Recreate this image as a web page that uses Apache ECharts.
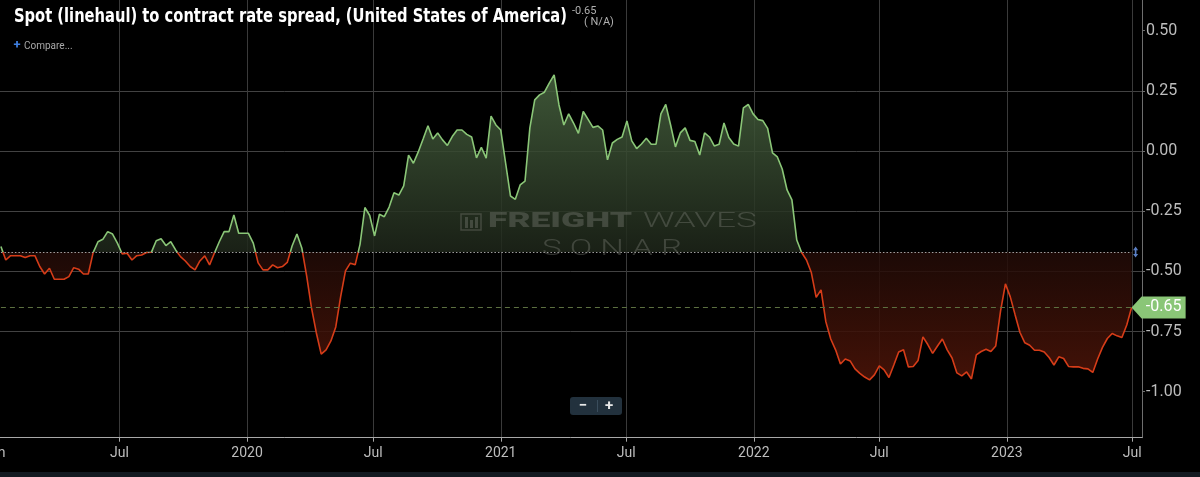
<!DOCTYPE html>
<html>
<head>
<meta charset="utf-8">
<script src="https://cdn.jsdelivr.net/npm/echarts@6/dist/echarts.min.js"></script>
<style>
html,body{margin:0;padding:0;background:#000;}
#chart{width:1200px;height:477px;}
</style>
</head>
<body>
<div id="chart"></div>
<script>
// ---- data (weekly) ----
const dates = [
'2019-01-11','2019-01-18','2019-01-25','2019-02-01','2019-02-08','2019-02-15','2019-02-22','2019-03-01','2019-03-08','2019-03-15','2019-03-22','2019-03-29','2019-04-05','2019-04-12','2019-04-19','2019-04-26','2019-05-03','2019-05-10','2019-05-17','2019-05-24','2019-05-31','2019-06-07','2019-06-14','2019-06-21','2019-06-28','2019-07-05','2019-07-12','2019-07-19','2019-07-26','2019-08-02','2019-08-09','2019-08-16','2019-08-23','2019-08-30','2019-09-06','2019-09-13','2019-09-20','2019-09-27','2019-10-04','2019-10-11','2019-10-18','2019-10-25','2019-11-01','2019-11-08','2019-11-15','2019-11-22','2019-11-29','2019-12-06','2019-12-13','2019-12-20','2019-12-27',
'2020-01-03','2020-01-10','2020-01-17','2020-01-24','2020-01-31','2020-02-07','2020-02-14','2020-02-21','2020-02-28','2020-03-06','2020-03-13','2020-03-20','2020-03-27','2020-04-03','2020-04-10','2020-04-17','2020-04-24','2020-05-01','2020-05-08','2020-05-15','2020-05-22','2020-05-29','2020-06-05','2020-06-12','2020-06-19','2020-06-26','2020-07-03','2020-07-10','2020-07-17','2020-07-24','2020-07-31','2020-08-07','2020-08-14','2020-08-21','2020-08-28','2020-09-04','2020-09-11','2020-09-18','2020-09-25','2020-10-02','2020-10-09','2020-10-16','2020-10-23','2020-10-30','2020-11-06','2020-11-13','2020-11-20','2020-11-27','2020-12-04','2020-12-11','2020-12-18','2020-12-25',
'2021-01-01','2021-01-08','2021-01-15','2021-01-22','2021-01-29','2021-02-05','2021-02-12','2021-02-19','2021-02-26','2021-03-05','2021-03-12','2021-03-19','2021-03-26','2021-04-02','2021-04-09','2021-04-16','2021-04-23','2021-04-30','2021-05-07','2021-05-14','2021-05-21','2021-05-28','2021-06-04','2021-06-11','2021-06-18','2021-06-25','2021-07-02','2021-07-09','2021-07-16','2021-07-23','2021-07-30','2021-08-06','2021-08-13','2021-08-20','2021-08-27','2021-09-03','2021-09-10','2021-09-17','2021-09-24','2021-10-01','2021-10-08','2021-10-15','2021-10-22','2021-10-29','2021-11-05','2021-11-12','2021-11-19','2021-11-26','2021-12-03','2021-12-10','2021-12-17','2021-12-24','2021-12-31',
'2022-01-07','2022-01-14','2022-01-21','2022-01-28','2022-02-04','2022-02-11','2022-02-18','2022-02-25','2022-03-04','2022-03-11','2022-03-18','2022-03-25','2022-04-01','2022-04-08','2022-04-15','2022-04-22','2022-04-29','2022-05-06','2022-05-13','2022-05-20','2022-05-27','2022-06-03','2022-06-10','2022-06-17','2022-06-24','2022-07-01','2022-07-08','2022-07-15','2022-07-22','2022-07-29','2022-08-05','2022-08-12','2022-08-19','2022-08-26','2022-09-02','2022-09-09','2022-09-16','2022-09-23','2022-09-30','2022-10-07','2022-10-14','2022-10-21','2022-10-28','2022-11-04','2022-11-11','2022-11-18','2022-11-25','2022-12-02','2022-12-09','2022-12-16','2022-12-23','2022-12-30',
'2023-01-06','2023-01-13','2023-01-20','2023-01-27','2023-02-03','2023-02-10','2023-02-17','2023-02-24','2023-03-03','2023-03-10','2023-03-17','2023-03-24','2023-03-31','2023-04-07','2023-04-14','2023-04-21','2023-04-28','2023-05-05','2023-05-12','2023-05-19','2023-05-26','2023-06-02','2023-06-09','2023-06-16','2023-06-23','2023-06-30'
];
const spread = [
-0.397,-0.453,-0.435,-0.435,-0.435,-0.443,-0.435,-0.435,-0.480,-0.511,
-0.487,-0.533,-0.533,-0.533,-0.522,-0.485,-0.491,-0.511,-0.511,-0.422,
-0.377,-0.367,-0.335,-0.345,-0.383,-0.428,-0.425,-0.453,-0.435,-0.432,
-0.422,-0.421,-0.373,-0.365,-0.393,-0.377,-0.411,-0.439,-0.457,-0.480,
-0.494,-0.457,-0.436,-0.473,-0.424,-0.377,-0.335,-0.335,-0.266,-0.342,
-0.342,-0.342,-0.383,-0.465,-0.494,-0.494,-0.473,-0.485,-0.480,-0.463,
-0.395,-0.345,-0.403,-0.519,-0.652,-0.756,-0.844,-0.826,-0.789,-0.731,
-0.606,-0.498,-0.466,-0.473,-0.388,-0.235,-0.268,-0.353,-0.263,-0.273,
-0.233,-0.174,-0.183,-0.145,-0.017,-0.051,-0.004,0.050,0.105,0.050,
0.075,0.046,0.023,0.060,0.087,0.087,0.069,0.058,-0.029,0.015,
-0.030,0.145,0.108,0.087,-0.050,-0.187,-0.201,-0.141,-0.125,0.096,
0.212,0.233,0.244,0.282,0.316,0.191,0.108,0.154,0.116,0.073,
0.164,0.131,0.098,0.104,0.087,-0.037,0.033,0.048,0.058,0.125,
0.042,0.010,0.029,0.053,0.028,0.028,0.154,0.193,0.108,0.017,
0.075,0.096,0.044,0.039,-0.017,0.075,0.058,0.021,0.028,0.116,
0.056,0.029,0.020,0.179,0.193,0.154,0.131,0.126,0.094,-0.008,
-0.025,-0.075,-0.162,-0.203,-0.370,-0.422,-0.453,-0.505,-0.608,-0.577,
-0.710,-0.781,-0.826,-0.885,-0.864,-0.872,-0.905,-0.924,-0.939,-0.951,
-0.930,-0.893,-0.909,-0.941,-0.889,-0.835,-0.826,-0.897,-0.895,-0.870,
-0.772,-0.804,-0.841,-0.810,-0.781,-0.826,-0.860,-0.922,-0.934,-0.918,
-0.947,-0.847,-0.833,-0.824,-0.833,-0.810,-0.664,-0.552,-0.606,-0.681,
-0.754,-0.797,-0.807,-0.828,-0.828,-0.835,-0.858,-0.889,-0.855,-0.862,
-0.895,-0.897,-0.896,-0.903,-0.905,-0.920,-0.864,-0.816,-0.779,-0.758,
-0.768,-0.775,-0.723,-0.650
];
const baseline = -0.42;
const yTickValues = [-1.00, -0.75, -0.50, -0.25, 0.00, 0.25, 0.50];
const monthNames = ['Jan','Feb','Mar','Apr','May','Jun','Jul','Aug','Sep','Oct','Nov','Dec'];
const titleText = 'Spot (linehaul) to contract rate spread, (United States of America)';
const latestText = '-0.65';
const changeText = '( N/A)';
const compareText = 'Compare...';

// ---- layout helpers ----
const measureCtx = document.createElement('canvas').getContext('2d');
function fitScale(text, font, targetWidth) {
  measureCtx.font = font;
  const w = measureCtx.measureText(text).width;
  return w > 0 ? targetWidth / w : 1;
}

const lastIdx = spread.length - 1;
const lastVal = spread[lastIdx];
const maxV = Math.max.apply(null, spread);
const minV = Math.min.apply(null, spread);
const split = (maxV - baseline) / (maxV - minV);

const GREEN = '#8ac677';
const RED = '#d63c18';
const WM = 'rgba(125,128,122,0.38)';

const titleFont = 'bold 20px "Liberation Sans Narrow", "DejaVu Sans Condensed", Roboto, sans-serif';
const titleScale = fitScale(titleText, titleFont, 553);
const wmBoldFont = '900 20px Roboto, "DejaVu Sans", sans-serif';
const wmThinFont = '300 20px Roboto, "DejaVu Sans", sans-serif';
const wmSonarFont = '300 22px Roboto, "DejaVu Sans", sans-serif';
const sFreight = fitScale('FREIGHT', wmBoldFont, 144);
const sWaves = fitScale('WAVES', wmThinFont, 114);
const sSonar = fitScale('S O N A R', wmSonarFont, 140);

const chart = echarts.init(document.getElementById('chart'), null, {renderer: 'canvas'});

const option = {
  backgroundColor: '#000000',
  animation: false,
  grid: {left: -6, right: 58, top: 0, bottom: 39.3, containLabel: false, outerBoundsMode: 'none'},
  xAxis: {
    type: 'time',
    min: '2019-01-01',
    max: '2023-07-15',
    splitNumber: 9,
    axisLine: {show: true, onZero: false, lineStyle: {color: '#a8a8a8', width: 1}},
    axisTick: {show: true, length: 4, lineStyle: {color: '#a8a8a8'}},
    axisLabel: {
      color: '#bdbdbd', fontSize: 14, fontFamily: 'Roboto, sans-serif', margin: 9,
      showMaxLabel: false, hideOverlap: false,
      formatter: function (val) {
        const d = new Date(val);
        if (d.getDate() !== 1) return '';
        const m = d.getMonth();
        if (m === 0) return d.getFullYear() === 2019 ? monthNames[0] : String(d.getFullYear());
        return monthNames[m];
      }
    },
    splitLine: {show: true, showMinLine: false, showMaxLine: false, lineStyle: {color: '#3a3a3a', width: 1}}
  },
  yAxis: {
    type: 'value',
    position: 'right',
    min: -1.191,
    max: 0.627,
    axisLine: {show: true, lineStyle: {color: '#6e6e6e', width: 1}},
    axisTick: {show: true, length: 3, customValues: yTickValues, lineStyle: {color: '#6e6e6e'}},
    axisLabel: {
      customValues: yTickValues,
      color: '#bdbdbd', fontSize: 16, fontFamily: 'Roboto, sans-serif', margin: 4,
      formatter: function (v) { return v.toFixed(2); }
    },
    splitLine: {show: true, showMinLine: false, showMaxLine: false, lineStyle: {color: '#424242', width: 1}}
  },
  visualMap: {
    show: false,
    type: 'piecewise',
    seriesIndex: 0,
    dimension: 1,
    pieces: [
      {gt: -2, lte: baseline, color: RED},
      {gt: baseline, lte: 2, color: GREEN}
    ]
  },
  series: [{
    type: 'line',
    data: dates.map(function (d, i) { return [d, spread[i]]; }),
    symbol: 'none',
    showSymbol: false,
    z: 3,
    lineStyle: {width: 1.6},
    areaStyle: {
      origin: baseline,
      opacity: 1,
      color: new echarts.graphic.LinearGradient(0, 0, 0, 1, [
        {offset: 0, color: 'rgba(72,100,64,0.85)'},
        {offset: split, color: 'rgba(30,38,26,0.85)'},
        {offset: split, color: 'rgba(33,11,7,0.85)'},
        {offset: 1, color: 'rgba(76,20,8,0.88)'}
      ])
    },
    markLine: {
      silent: true,
      symbol: ['none', 'none'],
      label: {show: false},
      data: [
        [{coord: [dates[0], baseline], lineStyle: {type: [1.5, 2], color: '#a0a0a0', width: 1.2}},
         {coord: [dates[lastIdx], baseline]}],
        [{coord: [dates[0], lastVal], lineStyle: {type: [5, 4], color: '#5c7040', width: 1}},
         {coord: [dates[lastIdx], lastVal]}]
      ]
    },
    markPoint: {
      silent: true,
      data: [
        {
          coord: [dates[lastIdx], lastVal],
          value: lastVal,
          symbol: 'path://M0,11L10,0L54,0L54,22L10,22Z',
          symbolSize: [54, 22],
          symbolOffset: [27, 0],
          itemStyle: {color: GREEN},
          label: {show: true, position: 'inside', offset: [5, 0], color: '#ffffff', fontSize: 16, fontFamily: 'Roboto, sans-serif',
                  formatter: function (p) { return Number(p.value).toFixed(2); }}
        },
        {
          coord: [dates[lastIdx], baseline],
          symbol: 'path://M3,0L6,4L4,4L4,8L6,8L3,12L0,8L2,8L2,4L0,4Z',
          symbolSize: [5, 11],
          symbolOffset: [4, 0],
          itemStyle: {color: '#5b7fc4'},
          label: {show: false}
        }
      ]
    }
  }],
  graphic: [
    // watermark
    {type: 'text', z: 10, x: 488, y: 222, scaleX: sFreight, style: {text: 'FREIGHT', font: wmBoldFont, fill: WM, textAlign: 'left', textVerticalAlign: 'middle'}},
    {type: 'text', z: 10, x: 643, y: 222, scaleX: sWaves, style: {text: 'WAVES', font: wmThinFont, fill: WM, textAlign: 'left', textVerticalAlign: 'middle'}},
    {type: 'text', z: 10, x: 542, y: 249, scaleX: sSonar, style: {text: 'S O N A R', font: wmSonarFont, fill: WM, textAlign: 'left', textVerticalAlign: 'middle'}},
    {type: 'rect', z: 10, shape: {x: 461, y: 214, width: 20, height: 16}, style: {fill: 'none', stroke: WM, lineWidth: 1.5}},
    {type: 'rect', z: 10, shape: {x: 465, y: 217, width: 3, height: 11}, style: {fill: WM}},
    {type: 'rect', z: 10, shape: {x: 470, y: 220, width: 3, height: 8}, style: {fill: WM}},
    {type: 'rect', z: 10, shape: {x: 475, y: 217, width: 3, height: 11}, style: {fill: WM}},
    // title
    {type: 'text', z: 100, x: 14, y: 16.5, scaleX: titleScale, style: {text: titleText, font: titleFont, fill: '#ffffff', textAlign: 'left', textVerticalAlign: 'middle'}},
    {type: 'text', z: 100, x: 572, y: 11, style: {text: latestText, font: '11px Roboto, sans-serif', fill: '#b0b0b0', textAlign: 'left', textVerticalAlign: 'middle'}},
    {type: 'text', z: 100, x: 584, y: 22, style: {text: changeText, font: '11px Roboto, sans-serif', fill: '#b0b0b0', textAlign: 'left', textVerticalAlign: 'middle'}},
    // compare
    {type: 'text', z: 100, x: 17, y: 45.5, style: {text: '+', font: 'bold 13px Roboto, sans-serif', fill: '#3f7fe0', textAlign: 'center', textVerticalAlign: 'middle'}},
    {type: 'text', z: 100, x: 24, y: 46.5, style: {text: compareText, font: '10px Roboto, sans-serif', fill: '#a8a8a8', textAlign: 'left', textVerticalAlign: 'middle'}},
    // zoom buttons
    {type: 'rect', z: 100, shape: {x: 570, y: 397, width: 52, height: 18, r: 3}, style: {fill: '#22313d'}},
    {type: 'rect', z: 101, shape: {x: 597, y: 400, width: 1, height: 12}, style: {fill: '#3a4d5c'}},
    {type: 'text', z: 101, x: 583, y: 406, style: {text: '\u2212', font: 'bold 15px Roboto, sans-serif', fill: '#e8e8e8', textAlign: 'center', textVerticalAlign: 'middle'}},
    {type: 'text', z: 101, x: 609, y: 406, style: {text: '+', font: 'bold 15px Roboto, sans-serif', fill: '#e8e8e8', textAlign: 'center', textVerticalAlign: 'middle'}},
    // bottom bar
    {type: 'rect', z: 100, shape: {x: 0, y: 472, width: 1200, height: 5}, style: {fill: '#131a21'}}
  ]
};
chart.setOption(option);
</script>
</body>
</html>
